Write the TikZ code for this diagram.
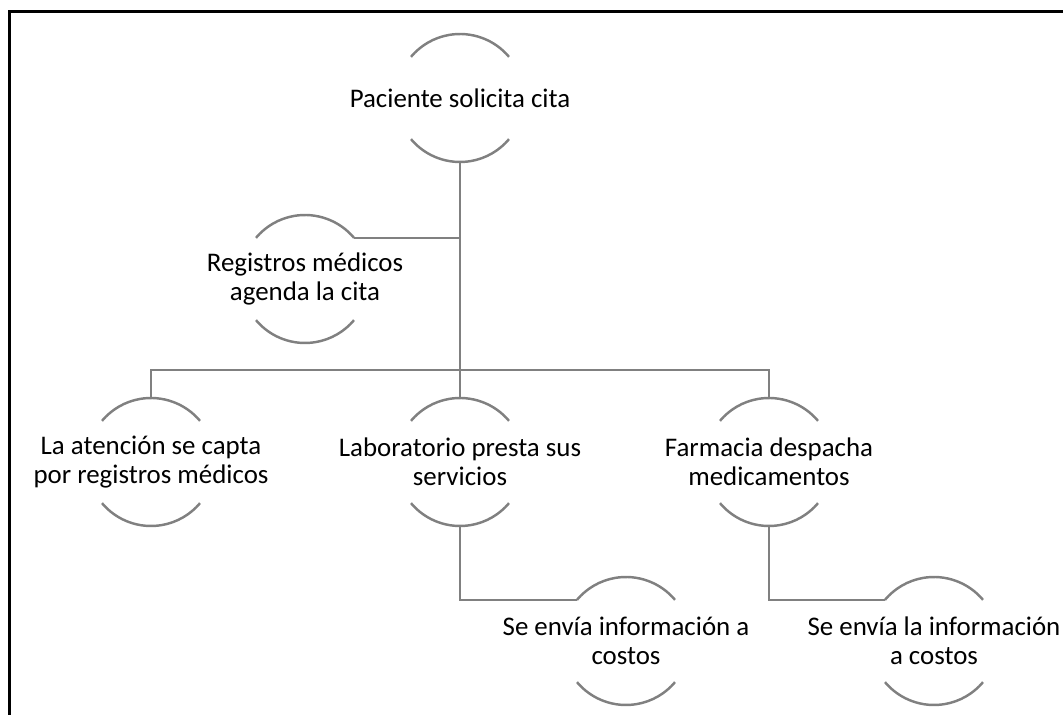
\documentclass[tikz,border=0pt]{standalone}
\usepackage{fontspec}
\setmainfont{Carlito}
\usepackage{xcolor}
\usetikzlibrary{positioning}
\definecolor{gris}{RGB}{128,128,128}

\tikzset{
  hito/.style={circle, minimum size=2.56cm, inner sep=0pt, outer sep=0pt},
  texto/.style={align=center, text=black, inner sep=0pt,
    font=\fontsize{15.3}{16.6}\selectfont},
  arco/.style={draw=gris, line width=1.4pt},
  enlace/.style={draw=gris, line width=1.4pt},
}

\begin{document}
\begin{tikzpicture}
			\useasboundingbox (0,0) rectangle (21.26,-14.3);
			\draw [line width=1.7pt] (0.19,-14.3) -- (0.19,-0.23) -- (21.26,-0.23);
			
			\node [hito, label={[texto]center:Paciente solicita cita}] (pac) at (9.2,-1.96) {};
			\node [hito, label={[texto]center:{Registros médicos\\agenda la cita}}] (reg) at (6.1,-5.58) {};
			
			\node [hito, label={[texto]center:{La atención se capta\\por registros médicos}}] (ate) at (3.02,-9.24) {};
			\node [hito, label={[texto]center:{Laboratorio presta sus\\servicios}}] (lab) at (9.2,-9.24) {};
			\node [hito, label={[texto]center:{Farmacia despacha\\medicamentos}}] (far) at (15.38,-9.24) {};
			
			\node [hito, label={[texto]center:{Se envía información a\\costos}}] (cos1) at (12.52,-12.82) {};
			\node [hito, label={[texto]center:{Se envía la información\\a costos}}] (cos2) at (18.68,-12.82) {};
			
			\foreach \n in {pac, reg, ate, lab, far, cos1, cos2} {
				\draw [arco] (\n.40) arc (40:140:1.28);
				\draw [arco] (\n.220) arc (220:320:1.28);
			}
			
			\coordinate (bus) at (9.2,-7.4);
			
			\draw [enlace] (pac.south) -- (lab.north);
			\draw [enlace] (reg.40) -- (reg.40 -| pac.south);
			\draw [enlace] (ate.north) |- (bus) -| (far.north);
			\draw [enlace] (lab.south) |- (cos1.140);
			\draw [enlace] (far.south) |- (cos2.140);
		\end{tikzpicture}
\end{document}
